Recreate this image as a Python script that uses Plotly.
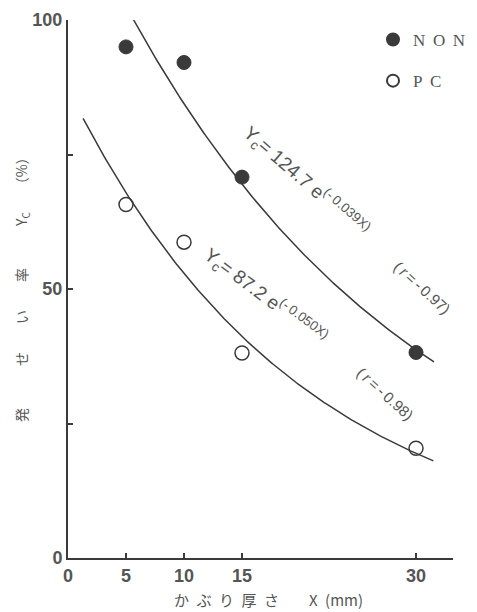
import plotly.graph_objects as go
import numpy as np

# ---- data ----
cover_mm = [5, 10, 15, 30]
non_rate = [95.0, 92.1, 70.8, 38.2]
pc_rate = [65.7, 58.7, 38.1, 20.4]

# fitted curves  Yc = A * exp(-B X)  (coefficients printed on the chart)
non_A, non_B = 124.7, 0.039
pc_A, pc_B = 87.2, 0.050
non_fit_range = [5.55, 31.55]
pc_fit_range = [1.3, 31.5]

x_ticks = [0, 5, 10, 15, 30]
y_ticks = [0, 50, 100]
y_minor_ticks = [25, 75]

INK = "#3a3a3a"
TXT = "#555555"

fig = go.Figure()

xf1 = np.linspace(non_fit_range[0], non_fit_range[1], 200)
xf2 = np.linspace(pc_fit_range[0], pc_fit_range[1], 200)
fig.add_trace(go.Scatter(x=xf1, y=non_A * np.exp(-non_B * xf1), mode="lines",
                         line=dict(color=INK, width=1.5), showlegend=False, hoverinfo="skip"))
fig.add_trace(go.Scatter(x=xf2, y=pc_A * np.exp(-pc_B * xf2), mode="lines",
                         line=dict(color=INK, width=1.5), showlegend=False, hoverinfo="skip"))

SP = "\u00a0\u2009"
fig.add_trace(go.Scatter(x=cover_mm, y=non_rate, mode="markers", name=f"N{SP}O{SP}N",
                         legendgroup="a",
                         marker=dict(symbol="circle", size=14, color=INK,
                                     line=dict(color=INK, width=1))))
fig.add_trace(go.Scatter(x=cover_mm, y=pc_rate, mode="markers", name=f"P{SP}C",
                         legendgroup="b",
                         marker=dict(symbol="circle-open", size=14, color=INK,
                                     line=dict(color=INK, width=1.5))))

ann_font = dict(family="Liberation Sans, Arial, sans-serif", size=19, color=TXT)
r_font = dict(family="Liberation Sans, Arial, sans-serif", size=15, color=TXT)
TS = "\u2009"
EN = "\u2002"
FW = "\u3000"
annotations = [
    dict(x=20.5, y=69.9, xref="x", yref="y", showarrow=False, textangle=41,
         text=f"Y<sub>c</sub>= 124.7 e<sup>(-{TS}0.039X)</sup>", font=ann_font),
    dict(x=17.0, y=48.6, xref="x", yref="y", showarrow=False, textangle=37,
         text=f"Y<sub>c</sub>= 87.2 e<sup>(-{TS}0.050X)</sup>", font=ann_font),
    dict(x=30.5, y=50.2, xref="x", yref="y", showarrow=False, textangle=42,
         text=f"({TS}<i>r</i>{TS}={TS}-{TS}0.97)", font=r_font),
    dict(x=27.3, y=30.5, xref="x", yref="y", showarrow=False, textangle=42,
         text=f"({TS}<i>r</i>{TS}={TS}-{TS}0.98)", font=r_font),
    # axis titles
    dict(x=0.5, y=0, xref="paper", yref="paper", showarrow=False, yanchor="middle",
         text=f"か{EN}ぶ{EN}り{EN}厚{EN}さ{FW}{FW}X{EN}(mm)",
         font=dict(family="Noto Sans CJK JP", size=15, color=TXT)),
    dict(x=0, y=0.5, xref="paper", yref="paper", showarrow=False, textangle=-90,
         xanchor="center", yanchor="middle",
         text=f"発{FW*3}せ{FW*2}い{FW*2}率{FW*3}Y<sub>C</sub>{FW*2}（%）",
         font=dict(family="Noto Sans CJK JP", size=14, color=TXT)),
]

# page body has an 8px margin -> shrink the figure so the plot lands where intended
OFF = 8
W, H = 477 - OFF, 612 - OFF
L, R, T, B = 68 - OFF, 24, 20 - OFF, 54
pw, ph = W - L - R, H - T - B


def px_to_paper(xp, yp):
    # xp, yp are window pixel coordinates
    return (xp - OFF - L) / pw, (H - B - (yp - OFF)) / ph


annotations[4]["x"], annotations[4]["y"] = px_to_paper(268, 599)
annotations[5]["x"], annotations[5]["y"] = px_to_paper(22, 286)

lx, ly = px_to_paper(373, 22)

fig.update_layout(
    width=W, height=H,
    margin=dict(l=L, r=R, t=T, b=B, autoexpand=False),
    plot_bgcolor="white", paper_bgcolor="white",
    annotations=annotations,
    legend=dict(x=lx, y=ly, xanchor="left", yanchor="top",
                traceorder="grouped", tracegroupgap=16,
                font=dict(family="Liberation Serif, serif", size=17, color=TXT),
                bgcolor="rgba(0,0,0,0)", itemsizing="constant"),
)
fig.update_xaxes(range=[0, 33.19], tickvals=x_ticks, ticktext=[str(v) for v in x_ticks],
                 ticks="inside", ticklen=5, tickcolor=INK, tickwidth=1.5, automargin=False,
                 showline=True, linecolor=INK, linewidth=2, showgrid=False, zeroline=False,
                 tickfont=dict(family="Liberation Sans, Arial", size=18, color=TXT, weight="bold"))
fig.update_yaxes(range=[0, 100], tickvals=y_ticks, ticktext=[str(v) for v in y_ticks],
                 ticks="inside", ticklen=5, tickcolor=INK, tickwidth=1.5, automargin=False,
                 minor=dict(tickvals=y_minor_ticks, ticks="inside", ticklen=5,
                            tickcolor=INK, tickwidth=1.5, showgrid=False),
                 showline=True, linecolor=INK, linewidth=2, showgrid=False, zeroline=False,
                 tickfont=dict(family="Liberation Sans, Arial", size=18, color=TXT, weight="bold"))

fig.write_html("out.html")
